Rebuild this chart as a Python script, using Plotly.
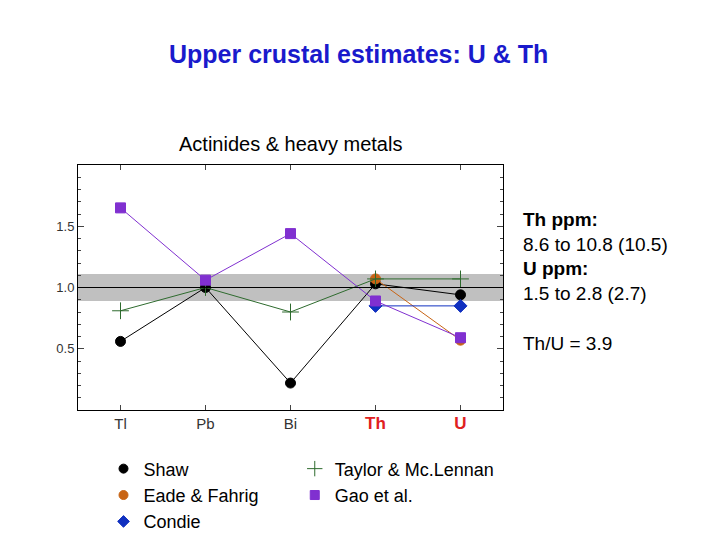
import plotly.graph_objects as go

cats = ["Tl", "Pb", "Bi", "Th", "U"]
shaw = [0.56, 1.0, 0.22, 1.03, 0.94]
taylor = [0.81, 1.0, 0.80, 1.07, 1.07]
eade_cats = ["Th", "U"]
eade = [1.07, 0.57]
condie_cats = ["Th", "U"]
condie = [0.85, 0.85]
gao = [1.65, 1.06, 1.44, 0.89, 0.59]
band = [0.89, 1.11]
ticklabels = ["Tl", "Pb", "Bi", "<b><span style='color:#e02020;font-size:17px'>Th</span></b>",
              "<b><span style='color:#e02020;font-size:17px'>U</span></b>"]

series = [
    ("Shaw", cats, shaw, "black", "circle", 10, "legend"),
    ("Eade & Fahrig", eade_cats, eade, "#c86414", "circle", 10, "legend"),
    ("Condie", condie_cats, condie, "#1030c0", "diamond", 10, "legend"),
    ("Taylor & Mc.Lennan", cats, taylor, "#2e6b2e", "cross-thin", 12, "legend2"),
    ("Gao et al.", cats, gao, "#8030d0", "square", 10, "legend2"),
]

fig = go.Figure()
fig.add_shape(type="rect", xref="paper", x0=0, x1=1, y0=band[0], y1=band[1],
              fillcolor="#c0c0c0", line_width=0, layer="below")
fig.add_shape(type="line", xref="paper", x0=0, x1=1, y0=1, y1=1, line=dict(color="black", width=1))

for name, xs, ys, col, sym, sz, lg in series:
    mk = dict(symbol=sym, size=sz, color=col, line=dict(color=col, width=1))
    fig.add_trace(go.Scatter(x=xs, y=ys, name=name, mode="lines+markers", showlegend=False,
                             line=dict(color=col, width=1), marker=mk))
    fig.add_trace(go.Scatter(x=[None], y=[None], name=name, mode="markers", legend=lg,
                             marker=dict(symbol=sym, size=sz - 1, color=col, line=dict(color=col, width=1))))

fig.update_layout(
    width=720, height=540, plot_bgcolor="white", paper_bgcolor="white",
    margin=dict(l=70, r=225, t=157, b=138, autoexpand=False),
    font=dict(family="Liberation Sans, Arial", size=13, color="black"),
    legend=dict(x=0.06, y=-0.165, xanchor="left", yanchor="top", font=dict(size=18), tracegroupgap=0, itemwidth=30, bgcolor="rgba(0,0,0,0)"),
    legend2=dict(x=0.51, y=-0.165, xanchor="left", yanchor="top", font=dict(size=18), itemwidth=30, bgcolor="rgba(0,0,0,0)"),
    xaxis=dict(type="category", categoryorder="array", categoryarray=cats, range=[-0.5, 4.5],
               tickvals=cats, ticktext=ticklabels, showline=True, linecolor="black", mirror="ticks",
               ticks="inside", ticklen=5, showgrid=False, tickfont=dict(size=15, color="#333")),
    yaxis=dict(range=[0, 2], tickvals=[0.5, 1.0, 1.5], ticktext=["0.5", "1.0", "1.5"],
               showline=True, linecolor="black", mirror="ticks", ticks="inside", ticklen=6,
               showgrid=False, zeroline=False, minor=dict(dtick=0.1, ticks="inside", ticklen=3),
               tickfont=dict(size=13, color="#333")),
    annotations=[
        dict(text="<b>Upper crustal estimates: U &amp; Th</b>", x=0.66, y=1.0, xref="paper", yref="paper",
             yanchor="bottom", yshift=95, showarrow=False, font=dict(size=25, color="#1a1acc")),
        dict(text="Actinides &amp; heavy metals", x=0.5, y=1.0, xref="paper", yref="paper", yanchor="bottom", yshift=8,
             showarrow=False, font=dict(size=20)),
        dict(text="<b>Th ppm:</b><br>8.6 to 10.8 (10.5)<br><b>U ppm:</b><br>1.5 to 2.8 (2.7)<br> <br>Th/U = 3.9",
             x=1.0, y=0.83, xref="paper", yref="paper", xanchor="left", yanchor="top", xshift=18, align="left",
             showarrow=False, font=dict(size=19)),
    ],
)
fig.write_html("out.html")
